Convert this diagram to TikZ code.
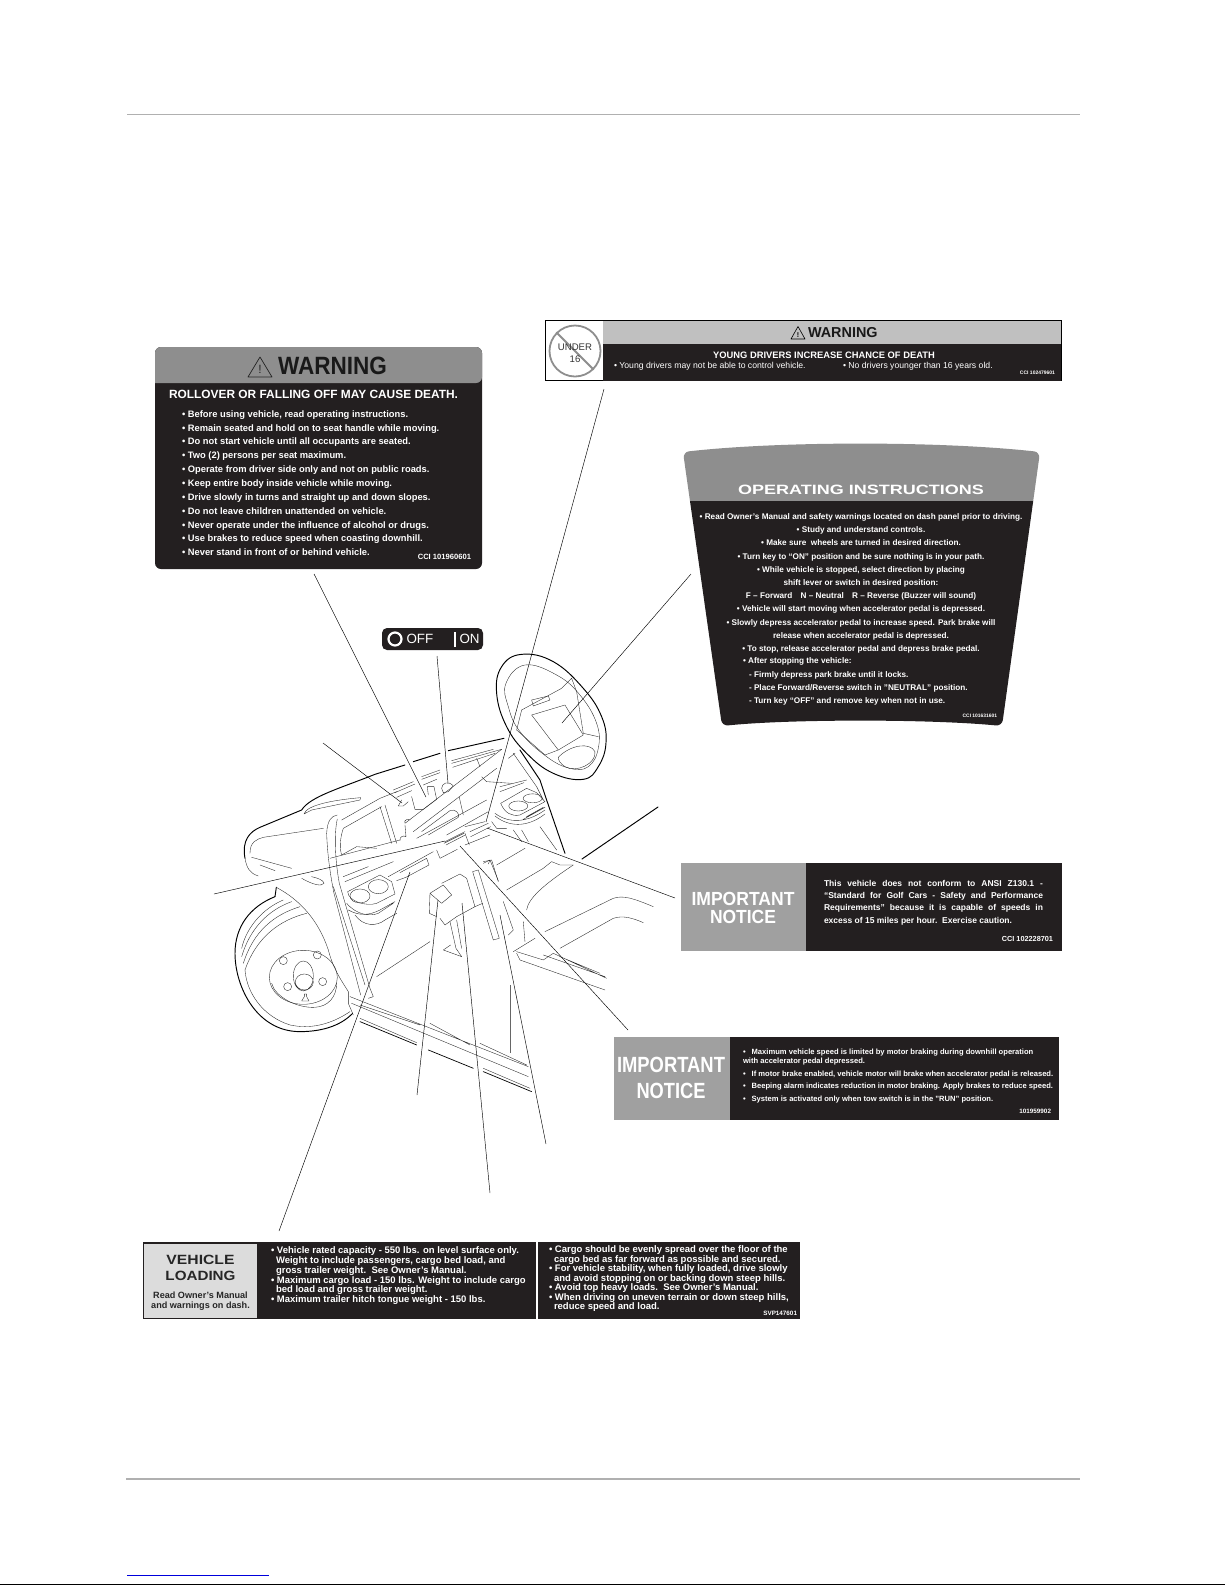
\documentclass[tikz,border=0pt]{standalone}
\usepackage{fontspec}
\setmainfont{Liberation Sans}
\usepackage{graphicx}
\usetikzlibrary{arrows.meta,positioning}
\definecolor{ink}{RGB}{35,31,32}
\definecolor{hdrdark}{RGB}{142,142,142}
\definecolor{hdrmid}{RGB}{160,160,160}
\definecolor{hdrlight}{RGB}{192,192,192}
\definecolor{hdrpale}{RGB}{220,220,220}
\definecolor{rulegrey}{RGB}{176,176,176}
\definecolor{linkblue}{RGB}{0,0,220}
\newcommand{\fs}[2]{\fontsize{#1}{#2}\selectfont}
\newcommand{\wide}[2]{\resizebox{#1}{\height}{#2}}
\newcommand{\full}[1]{\makebox[219pt][s]{#1}}
\begin{document}
\begin{tikzpicture}[x=1pt,y=-1pt,
  panel/.style={rectangle, inner sep=0pt, outer sep=0pt, anchor=north west},
  txt/.style={inner sep=0pt, outer sep=0pt, text=white, font=\bfseries},
  leader/.style={draw=black, line width=.45pt},
  thin line/.style={draw=black!85, line width=.36pt, line cap=round, line join=round},
  heavy line/.style={draw=black, line width=.95pt, line cap=round, line join=round}
]
\useasboundingbox (0,0) rectangle (1225,1585);
\fill[white] (0,0) rectangle (1225,1585);
% page rules
\coordinate (topA) at (127,114.5); \coordinate (topB) at (1080,114.5);
\coordinate (botA) at (126,1479); \coordinate (botB) at (1080,1479);
\coordinate (lnkA) at (127,1575); \coordinate (lnkB) at (269,1575);
\coordinate (edgeA) at (0,1584); \coordinate (edgeB) at (1225,1584);
\draw[rulegrey, line width=.8pt] (topA) -- (topB);
\draw[rulegrey, line width=1.6pt] (botA) -- (botB);
\draw[linkblue, line width=.9pt] (lnkA) -- (lnkB);
\draw[black, line width=1pt] (edgeA) -- (edgeB);

% rollover label
\node[panel, fill=ink, rounded corners=6pt, minimum width=327pt, minimum height=222pt] (rollBody) at (155,347) {};
\fill[hdrdark, rounded corners=6pt] (155,383) -- (155,347) -- (482,347) -- (482,383) [sharp corners] -- cycle;
\draw[black!85, line width=.7pt, line join=round] (260,357) -- (248,377) -- (272,377) -- cycle;
\node[txt, text=black!85, font=\mdseries\fs{12}{12}] (rollBang) at (260,369.5) {!};
\node[txt, text=black!90, anchor=west, font=\bfseries\fs{25}{25}] (rollHead) at (278,366) {\wide{109pt}{WARNING}};
\node[txt, anchor=west, font=\bfseries\fs{11.9}{12}] (rollTitle) at (169,394.5) {ROLLOVER OR FALLING OFF MAY CAUSE DEATH.};
\node[txt, anchor=north west, align=left, font=\bfseries\fs{9.35}{13.85}] (rollList) at (182,410.5) {
  • Before using vehicle, read operating instructions.\\
  • Remain seated and hold on to seat handle while moving.\\
  • Do not start vehicle until all occupants are seated.\\
  • Two (2) persons per seat maximum.\\
  • Operate from driver side only and not on public roads.\\
  • Keep entire body inside vehicle while moving.\\
  • Drive slowly in turns and straight up and down slopes.\\
  • Do not leave children unattended on vehicle.\\
  • Never operate under the influence of alcohol or drugs.\\
  • Use brakes to reduce speed when coasting downhill.\\
  • Never stand in front of or behind vehicle.};
\node[txt, anchor=east, font=\bfseries\fs{7.6}{8}] (rollCode) at (471,557) {CCI 101960601};

% under 16 label
\node[panel, draw=black, fill=white, line width=.8pt, minimum width=516pt, minimum height=60pt] (youngBox) at (545,320.5) {};
\node[panel, fill=hdrlight, minimum width=458pt, minimum height=23pt] (youngHdr) at (603,321) {};
\node[panel, fill=ink, minimum width=458pt, minimum height=37pt] (youngBody) at (603,344) {};
\node[circle, draw=hdrdark, line width=1.8pt, minimum size=51pt, inner sep=0pt] (noCircle) at (575,351) {};
\draw[hdrdark, line width=1.8pt] (noCircle.north west) -- (noCircle.south east);
\node[txt, text=black!80, align=center, font=\mdseries\fs{9.6}{12}] (noText) at (575,353) {UNDER\\16};
\draw[black, line width=.6pt, line join=round] (798,326.5) -- (791,339) -- (805,339) -- cycle;
\node[txt, text=black, font=\bfseries\fs{7}{7}] (youngBang) at (798,335) {!};
\node[txt, text=black!90, anchor=west, font=\bfseries\fs{14.4}{15}] (youngHead) at (808,332.5) {WARNING};
\node[txt, font=\bfseries\fs{9.35}{10}] (youngTitle) at (824,355) {YOUNG DRIVERS INCREASE CHANCE OF DEATH};
\node[txt, anchor=west, font=\mdseries\fs{8.65}{9}] (youngA) at (614,366.5) {• Young drivers may not be able to control vehicle.};
\node[txt, anchor=west, font=\mdseries\fs{8.65}{9}] (youngB) at (843,366.5) {• No drivers younger than 16 years old.};
\node[txt, anchor=east, font=\bfseries\fs{5}{5}] (youngCode) at (1055,373) {CCI 102479601};

% operating instructions
\begin{scope}
\clip[rounded corners=6pt] (683,452) .. controls (780,441) and (940,441) .. (1040,452) -- (1002,726) .. controls (930,719) and (790,719) .. (722,726) -- cycle;
\fill[hdrdark] (680,440) rectangle (1042,501);
\fill[ink] (680,501) rectangle (1042,730);
\end{scope}
\node[txt, font=\bfseries\fs{13.5}{14}] (opHead) at (861,490) {\wide{246pt}{OPERATING INSTRUCTIONS}};
\node[txt, anchor=north, align=center, font=\bfseries\fs{8.2}{13.2}] (opList) at (861,513.5) {
  • Read Owner's Manual and safety warnings located on dash panel prior to driving.\\
  • Study and understand controls.\\
  • Make sure\ \ wheels are turned in desired direction.\\
  • Turn key to “ON” position and be sure nothing is in your path.\\
  • While vehicle is stopped, select direction by placing\\
  shift lever or switch in desired position:\\
  F – Forward\quad N – Neutral\quad R – Reverse (Buzzer will sound)\\
  • Vehicle will start moving when accelerator pedal is depressed.\\
  • Slowly depress accelerator pedal to increase speed. Park brake will\\
  release when accelerator pedal is depressed.\\
  • To stop, release accelerator pedal and depress brake pedal.};
\node[txt, anchor=north west, align=left, font=\bfseries\fs{8.2}{13.2}] (opSteps) at (743,658) {
  • After stopping the vehicle:\\
  \hspace{6pt}- Firmly depress park brake until it locks.\\
  \hspace{6pt}- Place Forward/Reverse switch in "NEUTRAL" position.\\
  \hspace{6pt}- Turn key “OFF” and remove key when not in use.};
\node[txt, anchor=east, font=\bfseries\fs{4.9}{5}] (opCode) at (997,716) {CCI 101631601};

% off on label
\node[panel, fill=ink, rounded corners=5pt, minimum width=101pt, minimum height=22pt] (keyBody) at (382,628) {};
\node[circle, draw=white, line width=2.2pt, minimum size=13pt, inner sep=0pt] (keyRing) at (395,639) {};
\node[txt, anchor=west, font=\mdseries\fs{13.4}{13}] (keyOff) at (406.5,639) {OFF};
\node[panel, fill=white, minimum width=1.6pt, minimum height=15pt] (keyBar) at (454,631.5) {};
\node[txt, anchor=west, font=\mdseries\fs{13.4}{13}] (keyOn) at (459.5,639) {ON};

% important notice, speed
\node[panel, fill=hdrmid, minimum width=125pt, minimum height=88pt] (speedHdr) at (681,863) {};
\node[panel, fill=ink, minimum width=256pt, minimum height=88pt] (speedBody) at (806,863) {};
\node[txt, align=center, font=\bfseries\fs{19}{18}] (speedWord) at (743,908) {\wide{103pt}{IMPORTANT}\\\wide{66pt}{NOTICE}};
\node[txt, anchor=north west, align=left, font=\bfseries\fs{8.5}{12.4}] (speedText) at (824,880) {
  \full{This vehicle does not conform to ANSI Z130.1 -}\\
  \full{“Standard for Golf Cars - Safety and Performance}\\
  \full{Requirements” because it is capable of speeds in}\\
  excess of 15 miles per hour.\ \ Exercise caution.};
\node[txt, anchor=east, font=\bfseries\fs{7.3}{7}] (speedCode) at (1053,939) {CCI 102228701};

% important notice, braking
\node[panel, fill=hdrmid, minimum width=116pt, minimum height=83pt] (brakeHdr) at (614,1037) {};
\node[panel, fill=ink, minimum width=329pt, minimum height=83pt] (brakeBody) at (730,1037) {};
\node[txt, font=\bfseries\fs{22}{22}] (brakeWordA) at (671,1064.5) {\wide{108pt}{IMPORTANT}};
\node[txt, font=\bfseries\fs{22}{22}] (brakeWordB) at (671,1090.5) {\wide{69pt}{NOTICE}};
\node[txt, anchor=north west, align=left, font=\bfseries\fs{7.6}{9}] (brakeA) at (743,1049) {
  •\hspace{6pt}Maximum vehicle speed is limited by motor braking during downhill operation\\
  with accelerator pedal depressed.};
\node[txt, anchor=north west, align=left, font=\bfseries\fs{7.6}{12.7}] (brakeB) at (743,1070.5) {
  •\hspace{6pt}If motor brake enabled, vehicle motor will brake when accelerator pedal is released.\\
  •\hspace{6pt}Beeping alarm indicates reduction in motor braking. Apply brakes to reduce speed.\\
  •\hspace{6pt}System is activated only when tow switch is in the "RUN" position.};
\node[txt, anchor=east, font=\bfseries\fs{6.3}{6}] (brakeCode) at (1051,1111) {101959902};

% vehicle loading
\node[panel, fill=ink, minimum width=657pt, minimum height=77pt] (loadBody) at (143,1242) {};
\node[panel, fill=white, minimum width=2pt, minimum height=77pt] (loadGap) at (535.5,1242) {};
\node[panel, fill=hdrpale, minimum width=113pt, minimum height=74pt] (loadHdr) at (144,1243.5) {};
\node[txt, text=black!85, align=center, font=\bfseries\fs{13.4}{16}] (loadWord) at (200.5,1267.5) {\wide{68pt}{VEHICLE}\\\wide{70pt}{LOADING}};
\node[txt, text=black!85, align=center, font=\bfseries\fs{9.1}{10}] (loadNote) at (200.5,1301) {Read Owner's Manual\\and warnings on dash.};
\node[txt, anchor=north west, align=left, font=\bfseries\fs{9.5}{9.75}] (loadA) at (271,1247) {
  • Vehicle rated capacity - 550 lbs. on level surface only.\\
  \hspace{5pt}Weight to include passengers, cargo bed load, and\\
  \hspace{5pt}gross trailer weight.\ \ See Owner's Manual.\\
  • Maximum cargo load - 150 lbs. Weight to include cargo\\
  \hspace{5pt}bed load and gross trailer weight.\\
  • Maximum trailer hitch tongue weight - 150 lbs.};
\node[txt, anchor=north west, align=left, font=\bfseries\fs{9.5}{9.5}] (loadB) at (549,1246) {
  • Cargo should be evenly spread over the floor of the\\
  \hspace{5pt}cargo bed as far forward as possible and secured.\\
  • For vehicle stability, when fully loaded, drive slowly\\
  \hspace{5pt}and avoid stopping on or backing down steep hills.\\
  • Avoid top heavy loads.\ \ See Owner's Manual.\\
  • When driving on uneven terrain or down steep hills,\\
  \hspace{5pt}reduce speed and load.};
\node[txt, anchor=east, font=\bfseries\fs{6.3}{6}] (loadCode) at (797,1313) {SVP147601};

% cart, in coordinates of a 3x grid
\begin{scope}[shift={(200,620)},x=.3333pt,y=-.3333pt]
% body outline
\draw[heavy line] (135,715) .. controls (125,660) and (150,635) .. (180,622) -- (305,570) .. controls (330,530) and (420,505) .. (525,463) -- (615,435);
\draw[heavy line] (640,425) -- (720,400) (745,392) -- (912,355);
\draw[thin line] (135,715) .. controls (140,745) and (150,760) .. (175,768);
\draw[thin line] (312,582) .. controls (320,555) and (400,540) .. (482,533) -- (480,540) -- (335,570) -- (312,582);
\draw[thin line] (150,700) .. controls (150,665) and (170,658) .. (190,652) -- (370,625);
\draw[thin line] (155,712) -- (275,745) (180,735) -- (225,752) (305,775) .. controls (340,795) and (365,800) .. (372,790) (335,770) .. controls (355,775) and (370,780) .. (372,790);
% pillar and door frame
\draw[thin line] (380,640) .. controls (382,600) and (395,588) .. (412,585) (380,640) .. controls (382,700) and (390,760) .. (402,820) -- (482,1125);
\draw[thin line] (412,597) .. controls (402,640) and (405,720) .. (418,790) -- (510,1105) -- (520,1130) -- (505,1135);
\draw[thin line] (400,800) -- (495,1095) (425,600) -- (540,535) -- (590,515) (430,625) -- (545,560);
\draw[thin line] (430,625) .. controls (418,660) and (420,690) .. (425,705) -- (470,680) -- (530,685);
\draw[thin line] (540,560) -- (575,670) (555,555) -- (590,670) (390,715) -- (600,660);
\draw[thin line] (430,770) -- (505,740) (435,785) -- (580,725);
% dash, centre of the grid moved to the dash corner
\begin{scope}[shift={(540,300)}]
\draw[thin line] (40,210) -- (100,185) (45,218) -- (105,192) (50,232) -- (95,212) (125,170) -- (180,150) (125,178) -- (180,158) (130,195) -- (170,178);
\draw[thin line] (215,130) -- (365,88) (215,122) -- (340,88) (218,142) -- (345,100) (290,115) -- (300,140);
\draw[thin line] (65,240) -- (55,258) -- (70,258) -- (85,245);
\draw[thin line] (95,230) -- (105,268) -- (130,268) -- (170,238) -- (162,200) -- (142,200) -- (145,225);
\draw[thin line] (185,205) .. controls (185,190) and (205,180) .. (220,198) -- (205,215) -- (190,218) -- cycle;
\draw[thin line] (75,310) -- (365,88) (100,335) -- (350,145) (75,310) .. controls (70,300) and (85,295) .. (90,300);
\draw[thin line] (60,362) .. controls (58,350) and (70,345) .. (78,350) -- (75,315) (110,355) -- (320,240);
\draw[thin line] (125,335) -- (210,272) .. controls (225,265) and (240,280) .. (235,292) -- (145,345);
\draw[thin line] (238,232) -- (250,285) (305,170) -- (320,185) -- (395,190) (200,345) -- (325,275);
\draw[thin line] (195,365) -- (255,335) (192,370) -- (252,340) (198,375) -- (256,345);
\draw[thin line] (255,320) -- (315,305) (270,335) -- (325,310) (272,350) -- (332,320) (255,375) -- (330,345) (255,340) -- (268,375);
\draw[thin line] (360,200) -- (440,180) (360,215) -- (432,188);
% upper cups
\draw[thin line] (415,258) ellipse [x radius=9.5pt, y radius=5pt] (458,235) ellipse [x radius=9.5pt, y radius=4.5pt];
\draw[thin line] (362,250) .. controls (375,280) and (395,290) .. (420,285) -- (495,245) -- (470,218) -- (440,205) -- cycle;
\draw[thin line] (345,280) .. controls (385,310) and (440,310) .. (495,270) (345,288) .. controls (385,320) and (440,325) .. (495,282) (430,298) -- (495,262) (440,290) -- (490,262);
\draw[thin line] (335,305) -- (350,325) -- (380,325) (425,330) -- (445,365) (480,320) -- (530,390) (400,330) -- (425,365);
% floor, right of the dash
\draw[thin line] (350,435) -- (435,385) (380,510) -- (490,445) -- (515,425) -- (540,435) -- (580,435);
\draw[thin line] (440,570) .. controls (445,535) and (490,495) .. (580,435);
\draw[thin line] (310,430) -- (330,420) -- (355,482) (325,432) -- (330,420);
% dash, low
\draw[thin line] (25,470) -- (160,395) (60,458) -- (140,415) -- (147,435) -- (78,472) -- (50,482);
\draw[thin line] (170,390) -- (180,415) -- (232,388);
\end{scope}
% lower cups
\draw[thin line] (480,828) ellipse [x radius=10pt, y radius=7pt] (535,800) ellipse [x radius=10pt, y radius=7pt];
\draw[thin line] (443,815) .. controls (445,845) and (500,860) .. (530,850) -- (585,822) -- (575,785) -- (540,765) -- (443,815);
\draw[thin line] (440,850) .. controls (470,885) and (510,890) .. (535,880) -- (580,850) (445,870) .. controls (480,890) and (510,885) .. (540,870) (540,870) -- (585,845);
\draw[thin line] (465,885) .. controls (490,920) and (530,920) .. (555,900) -- (590,880);
% wheel
\draw[heavy line] (225,830) .. controls (150,860) and (105,920) .. (105,1000) .. controls (105,1100) and (170,1235) .. (300,1235) .. controls (360,1235) and (420,1220) .. (458,1180);
\draw[heavy line] (225,830) -- (229,802);
\draw[thin line] (229,802) .. controls (300,840) and (355,900) .. (385,990) .. controls (400,1050) and (430,1090) .. (445,1115) -- (445,1150) -- (460,1185);
\draw[thin line] (250,840) .. controls (190,865) and (140,920) .. (125,985) (275,845) .. controls (205,870) and (150,925) .. (125,1010) (300,860) .. controls (220,885) and (160,935) .. (130,1030) (320,880) .. controls (240,900) and (170,950) .. (135,1050);
\draw[thin line] (135,1050) .. controls (140,1120) and (190,1190) .. (270,1215) .. controls (330,1228) and (390,1215) .. (450,1175);
\draw[thin line] (310,1072) ellipse [x radius=34pt, y radius=27pt];
\draw[thin line] (215,1090) .. controls (225,1130) and (290,1165) .. (345,1162) .. controls (385,1160) and (410,1130) .. (410,1090);
\draw[thin line] (310,1068) ellipse [x radius=10pt, y radius=15pt] (313,1086) ellipse [x radius=9pt, y radius=8pt];
\draw[thin line] (250,1022) circle [radius=4pt] (352,1005) circle [radius=4pt] (368,1085) circle [radius=4pt] (263,1100) circle [radius=4pt];
\draw[thin line] (305,1143) -- (327,1143) -- (320,1130) -- (320,1122) -- (313,1122) -- (313,1130) -- cycle;
% sill and floor
\draw[thin line] (450,1130) -- (985,1340) (455,1150) -- (985,1370) (480,1155) -- (660,1215) (690,1210) -- (810,1275) (840,1270) -- (980,1335);
\draw[heavy line, line width=.7pt] (480,1205) -- (650,1275) (685,1290) -- (820,1345) (850,1355) -- (995,1415);
\draw[thin line] (480,1195) -- (650,1268) (850,1345) -- (990,1405);
\draw[draw=black!60, line width=.5pt] (930,1095) -- (930,1300);
\draw[thin line] (530,1070) -- (690,965);
% console and pedals
\draw[thin line] (690,820) -- (730,795) -- (755,825) -- (725,850) -- (690,820) (690,820) -- (688,880) -- (710,890) (725,790) -- (780,762) -- (800,775) -- (825,860) -- (770,890) -- (735,915) -- (720,895);
\draw[thin line] (750,905) -- (768,985) -- (785,1010) -- (730,990) -- (752,975) (770,900) -- (785,985) (825,860) -- (848,850);
\draw[thin line] (818,755) -- (880,960) -- (898,955) -- (835,750) -- (818,755) (850,725) -- (875,720) -- (895,785) (910,845) -- (940,930) -- (925,945) (970,905) -- (975,965);
\draw[thin line] (1035,935) -- (1240,835) .. controls (1270,825) and (1300,835) .. (1360,860) (1080,985) -- (1240,895) .. controls (1270,885) and (1300,895) .. (1330,908);
\draw[thin line] (940,995) -- (1005,955) (950,1000) -- (960,1020) -- (1215,1110) (950,995) -- (1030,1020) -- (1060,1000) -- (1220,1075) (1030,1005) -- (1215,1070) (1080,1010) -- (1200,1060);
% steering wheel and column
\draw[heavy line] plot[smooth cycle, tension=.7] coordinates {(965,103) (1060,125) (1150,205) (1205,290) (1218,370) (1195,440) (1150,478) (1060,460) (980,400) (920,320) (890,220) (905,140)};
\draw[thin line] plot[smooth cycle, tension=.7] coordinates {(975,135) (1070,165) (1140,225) (1190,310) (1195,385) (1165,440) (1110,445) (1040,410) (960,335) (925,260) (918,190)};
\draw[thin line] (965,270) -- (1085,205) -- (1115,175) -- (1130,215) -- (1150,340) -- (1195,350) (995,285) -- (1095,255) -- (1150,345) -- (1075,390) -- (995,285);
\draw[thin line] (995,240) -- (1045,228) -- (1050,240) -- (1000,258) -- cycle (965,270) -- (950,330) -- (1035,405) -- (1075,390);
\draw[thin line] (1075,412) .. controls (1110,375) and (1170,365) .. (1185,395) .. controls (1190,430) and (1130,460) .. (1095,440) .. controls (1080,430) and (1075,420) .. (1075,412);
\draw[heavy line] (960,390) -- (1020,480) -- (1040,540) -- (1095,700);
\draw[thin line] (940,400) -- (1010,500) -- (1030,540) (925,415) -- (945,400);
\end{scope}

% leaders
\coordinate (rollFoot) at (314,574); \coordinate (rollTip) at (426,797);
\coordinate (keyFoot) at (437,656); \coordinate (keyTip) at (448,783);
\coordinate (sideFoot) at (323,743); \coordinate (sideTip) at (402,803);
\coordinate (youngFoot) at (604,389); \coordinate (youngTip) at (486,822);
\coordinate (opFoot) at (691,574); \coordinate (opTip) at (562,723);
\coordinate (speedFoot) at (675,898); \coordinate (speedTip) at (487,828);
\coordinate (brakeFoot) at (628,1030); \coordinate (brakeTip) at (460,846);
\coordinate (backFoot) at (214,894); \coordinate (backTip) at (445,841);
\coordinate (loadFoot) at (279,1231); \coordinate (loadTip) at (410,872);
\coordinate (pedalFoot) at (417,1095); \coordinate (pedalTip) at (438,900);
\coordinate (boxFoot) at (490,1193); \coordinate (boxTip) at (462,903);
\coordinate (slotFoot) at (546,1144); \coordinate (slotTip) at (500,915);
\coordinate (strutA) at (582,859); \coordinate (strutB) at (658,807);
\draw[leader] (rollFoot) -- (rollTip);
\draw[leader] (keyFoot) -- (keyTip);
\draw[leader] (sideFoot) -- (sideTip);
\draw[leader] (youngFoot) -- (youngTip);
\draw[leader] (opFoot) -- (opTip);
\draw[leader] (speedFoot) -- (speedTip);
\draw[leader] (brakeFoot) -- (brakeTip);
\draw[leader] (backFoot) -- (backTip);
\draw[leader] (loadFoot) -- (loadTip);
\draw[leader] (pedalFoot) -- (pedalTip);
\draw[leader] (boxFoot) -- (boxTip);
\draw[leader] (slotFoot) -- (slotTip);
\draw[heavy line] (strutA) -- (strutB);
\end{tikzpicture}
\end{document}
